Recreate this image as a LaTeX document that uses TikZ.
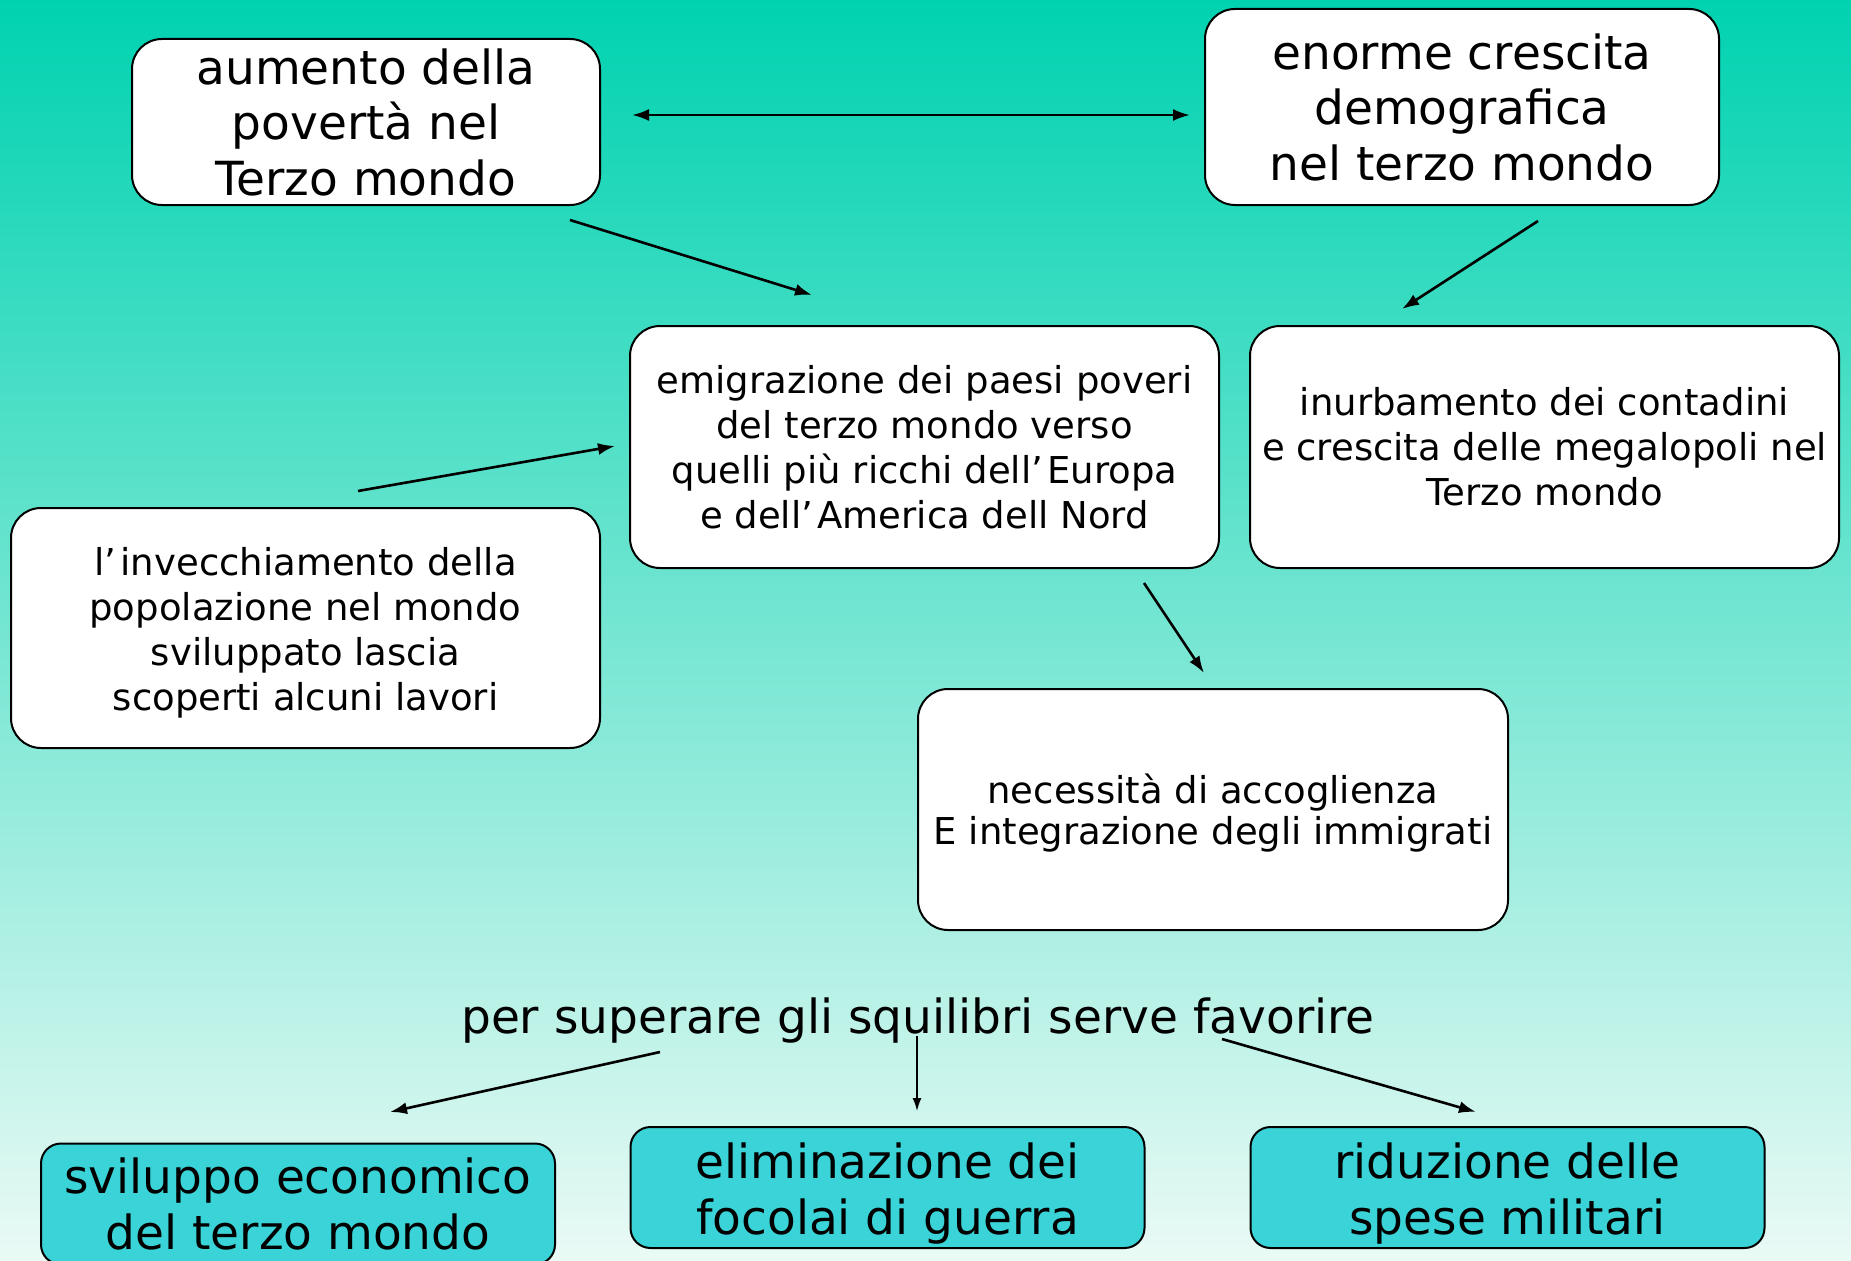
\documentclass[tikz,border=0pt]{standalone}
\usepackage{fontspec}
\setmainfont{DejaVu Sans}
\usetikzlibrary{arrows.meta}
\definecolor{bgtop}{RGB}{0,210,176}
\definecolor{bgbot}{RGB}{234,250,245}
\definecolor{cyanbox}{RGB}{58,212,216}
\tikzset{
 box/.style={draw=black, line width=2pt, rounded corners=30pt, fill=white, align=center, inner sep=0pt},
 big/.style={font=\fontsize{47}{55.5}\selectfont},
 mid/.style={font=\fontsize{37}{45}\selectfont},
 boxtext/.style={align=center, inner sep=0pt},
 goal/.style={draw=black, line width=2pt, rounded corners=20pt, fill=cyanbox, inner sep=0pt, minimum width=514pt, minimum height=121pt},
 goaltext/.style={align=center, inner sep=0pt, font=\fontsize{47}{55.5}\selectfont, yshift=-6pt},
 conn/.style={line width=2.6pt, -{Latex[length=17pt,width=12pt]}},
 thinconn/.style={line width=1.6pt, -{Latex[length=13pt,width=9pt]}},
}
\begin{document}
\begin{tikzpicture}[x=1pt,y=-1pt]
\shade[top color=bgtop, bottom color=bgbot] (0,0) rectangle (1851,1260);
\path[use as bounding box] (0,0) rectangle (1851,1260);

\node[box,big,minimum width=468pt,minimum height=166pt] (A) at (366,122) {aumento della\\povertà nel\\Terzo mondo};
\node[box,big,minimum width=514pt,minimum height=196pt] (B) at (1462,107) {enorme crescita\\demografica\\nel terzo mondo};
\node[box,mid,minimum width=589pt,minimum height=242pt] (C) at (924.5,447) {emigrazione dei paesi poveri\\del terzo mondo verso\\quelli più ricchi dell’\hspace{.12em}Europa\\e dell’\hspace{.12em}America dell Nord};
\node[box,mid,minimum width=589pt,minimum height=242pt] (D) at (1544.5,447) {inurbamento dei contadini\\e crescita delle megalopoli nel\\Terzo mondo};
\node[box,minimum width=589pt,minimum height=240pt,
  label={[boxtext,mid,yshift=-5pt]center:l’\hspace{.12em}invecchiamento della\\popolazione nel mondo\\sviluppato lascia\\scoperti alcuni lavori}] (E) at (305.5,628) {};
\node[box,minimum width=590pt,minimum height=241pt,
  label={[boxtext,font=\fontsize{37}{41}\selectfont,yshift=-4pt]center:necessità di accoglienza\\E integrazione degli immigrati}] (F) at (1213,809.5) {};
\node[big,inner sep=0pt] (G) at (918,1021) {per superare gli squilibri serve favorire};
\node[goal,label={[goaltext,yshift=6pt]center:sviluppo economico\\del terzo mondo}] (H) at (298,1204) {};
\node[goal,label={[goaltext]center:eliminazione dei\\focolai di guerra}] (I) at (887.5,1187.5) {};
\node[goal,label={[goaltext]center:riduzione delle\\spese militari}] (J) at (1507.5,1187.5) {};

\coordinate (d1) at (632,115); \coordinate (d2) at (1190,115);
\coordinate (a1) at (570,220); \coordinate (a2) at (812,295);
\coordinate (b1) at (1538,221); \coordinate (b2) at (1402,309);
\coordinate (e1) at (358,491); \coordinate (e2) at (615,446);
\coordinate (c1) at (1144,583); \coordinate (c2) at (1204,673);
\coordinate (g1) at (660,1052); \coordinate (g2) at (390,1112);
\coordinate (g3) at (917,1036); \coordinate (g4) at (917,1111);
\coordinate (g5) at (1222,1039); \coordinate (g6) at (1476,1112);

\draw[line width=2.5pt, {Latex[length=17pt,width=12pt]}-{Latex[length=17pt,width=12pt]}] (d1) -- (d2);
\draw[conn] (a1) -- (a2);
\draw[conn] (b1) -- (b2);
\draw[conn] (e1) -- (e2);
\draw[conn] (c1) -- (c2);
\draw[conn] (g1) -- (g2);
\draw[thinconn] (g3) -- (g4);
\draw[conn] (g5) -- (g6);
\end{tikzpicture}
\end{document}
